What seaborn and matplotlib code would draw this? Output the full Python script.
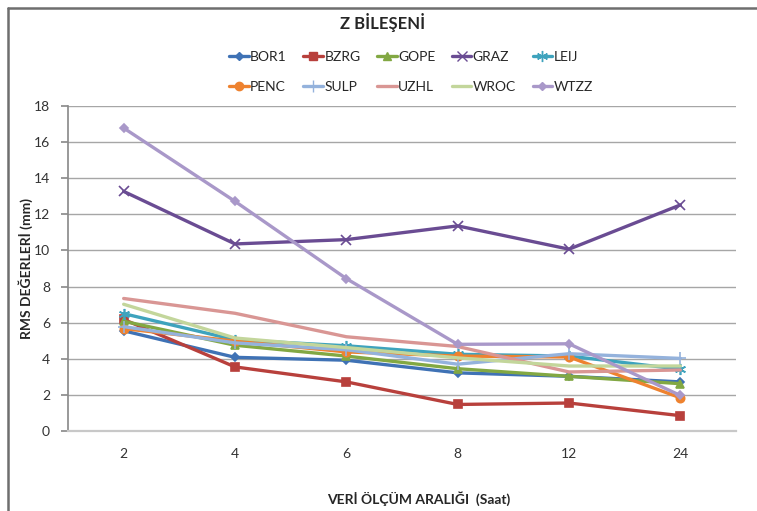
import matplotlib
matplotlib.use("Agg")
import matplotlib.pyplot as plt
from matplotlib.lines import Line2D
import pandas as pd
import seaborn as sns

# Measurement interval (hours) and RMS values (mm) per station
intervals = ["2", "4", "6", "8", "12", "24"]
stations = ["BOR1", "BZRG", "GOPE", "GRAZ", "LEIJ", "PENC", "SULP", "UZHL", "WROC", "WTZZ"]

bor1 = [5.55, 4.08, 3.92, 3.22, 3.03, 2.72]
bzrg = [6.18, 3.55, 2.72, 1.47, 1.55, 0.85]
gope = [6.08, 4.75, 4.15, 3.45, 3.03, 2.62]
graz = [13.27, 10.36, 10.6, 11.36, 10.07, 12.52]
leij = [6.5, 5.05, 4.72, 4.25, 4.15, 3.42]
penc = [5.67, 4.98, 4.38, 4.15, 4.1, 1.84]
sulp = [5.78, 4.88, 4.5, 3.7, 4.28, 4.02]
uzhl = [7.34, 6.52, 5.22, 4.68, 3.27, 3.38]
wroc = [7.02, 5.15, 4.62, 4.05, 3.6, 3.6]
wtzz = [16.78, 12.72, 8.44, 4.8, 4.83, 1.97]

values = [bor1, bzrg, gope, graz, leij, penc, sulp, uzhl, wroc, wtzz]

colors = ["#3f72b5", "#b8403c", "#82a843", "#6a4c93", "#3ea3bd",
          "#ee822f", "#94b2dc", "#d99694", "#c3d69b", "#a998c9"]
markers = ["D", "s", "^", "x", (6, 2, 0), "o", "+", None, None, "D"]
msizes = [4.5, 6, 6, 7, 8, 6, 8, 0, 0, 4.5]

df = pd.DataFrame({
    "interval": intervals * len(stations),
    "station": [s for s in stations for _ in intervals],
    "rms": [v for vals in values for v in vals],
})

sns.set_theme(style="white")
plt.rcParams["font.family"] = ["Lato", "DejaVu Sans"]

fig = plt.figure(figsize=(7.57, 5.11), dpi=100)
ax = fig.add_axes([68 / 757, 1 - 431 / 511, (736 - 68) / 757, (431 - 106) / 511])

for st, col, mk, ms in zip(stations, colors, markers, msizes):
    sub = df[df["station"] == st]
    kw = dict(marker=mk, markersize=ms, markeredgecolor=col, markerfacecolor=col,
              markeredgewidth=1.2) if mk is not None else {}
    sns.lineplot(data=sub, x="interval", y="rms", ax=ax, color=col, linewidth=2.4,
                 sort=False, legend=False, **kw)

ax.set_xlim(-0.5, 5.5)
ax.set_ylim(0, 18)
ax.set_yticks(range(0, 19, 2))
ax.grid(axis="y", color="#a6a6a6", linewidth=1.0)
ax.set_axisbelow(True)
for side in ["top", "right"]:
    ax.spines[side].set_visible(False)
ax.spines["left"].set_color("#8c8c8c")
ax.spines["bottom"].set_color("#c8c8c8")
ax.spines["bottom"].set_linewidth(1.6)
ax.tick_params(axis="y", length=5, color="#8c8c8c", left=True, labelsize=10, pad=8,
               labelcolor="#333333")
ax.tick_params(axis="x", length=0, labelsize=10, pad=12, labelcolor="#333333")

ax.set_xlabel("VERİ ÖLÇÜM ARALIĞI  (Saat)", fontsize=10, fontweight="bold")
ax.xaxis.set_label_coords((419 - 68) / (736 - 68), -(491 - 431) / (431 - 106))
ax.set_ylabel("RMS DEĞERLERİ (mm)", fontsize=10, fontweight="bold")
ax.yaxis.set_label_coords(-(68 - 33) / (736 - 68), 0.5)

fig.text(383 / 757, 1 - 22 / 511, "Z BİLEŞENİ", ha="center", va="center",
         fontsize=12, fontweight="bold")

handles = [Line2D([], [], color=c, linewidth=2.4, marker=m,
                  markersize=(ms if m is not None else 0), markeredgecolor=c,
                  markerfacecolor=c)
           for c, m, ms in zip(colors, markers, msizes)]
# Arrange entries row by row across five columns
order = [0, 5, 1, 6, 2, 7, 3, 8, 4, 9]
fig.legend([handles[i] for i in order], [stations[i] for i in order], ncol=5,
           loc="center", bbox_to_anchor=(411 / 757, 1 - 72 / 511), frameon=False,
           fontsize=10, handlelength=1.4, handletextpad=0.1, columnspacing=1.2,
           labelspacing=1.25)

# Chart area frame
fig.add_artist(Line2D([8 / 757, 1.0], [1 - 8 / 511, 1 - 8 / 511], color="#6e6e6e",
                      linewidth=1.8, transform=fig.transFigure))
fig.add_artist(Line2D([8 / 757, 8 / 757], [0, 1 - 8 / 511], color="#6e6e6e",
                      linewidth=1.8, transform=fig.transFigure))

fig.savefig("out.png", dpi=100)
